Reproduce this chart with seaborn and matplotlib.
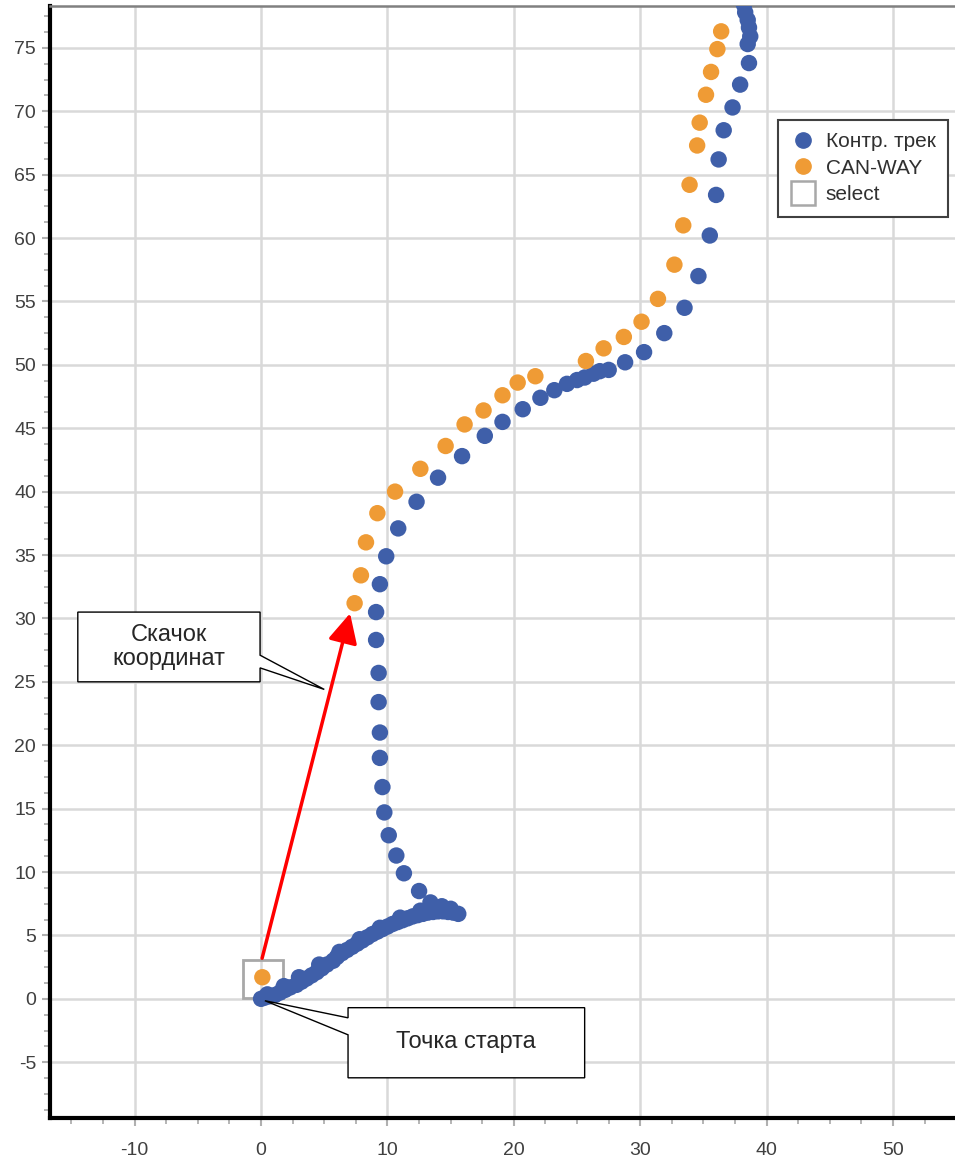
import numpy as np
import pandas as pd
import matplotlib
matplotlib.use("Agg")
from matplotlib import pyplot as plt
from matplotlib.patches import Polygon, Rectangle
from matplotlib.lines import Line2D
from matplotlib.ticker import MultipleLocator
import seaborn as sns

# control track (blue)
track_x = [0.0, 0.3, 0.7, 1.1, 1.5, 1.9, 2.3, 2.8, 3.2, 3.6, 4.0, 4.4, 4.8, 5.2, 5.7,
           6.0, 6.4, 6.8, 7.2, 7.6, 8.0, 8.4, 8.8, 9.2, 9.6, 10.0, 10.4, 10.8, 11.2,
           11.6, 12.0, 12.4, 12.8, 13.2, 13.6, 14.0, 14.4, 14.8, 15.2, 15.6, 14.3,
           15.0, 13.4, 12.5, 11.3, 10.7, 10.1, 9.75, 9.6, 9.4, 9.4, 9.3, 9.3, 9.1,
           9.1, 9.4, 9.9, 10.85, 12.3, 14.0, 15.9, 17.7, 19.1, 20.7, 22.1, 23.2,
           24.2, 25.0, 25.6, 26.3, 26.8, 27.5, 28.8, 30.3, 31.9, 33.5, 34.6, 35.5,
           36.0, 36.2, 36.6, 37.3, 37.9, 38.6, 38.5, 38.7, 38.6, 38.5, 38.3, 38.2,
           0.5, 1.8, 3.0, 4.6, 6.2, 7.8, 9.4, 11.0, 12.6]
track_y = [0.0, 0.1, 0.2, 0.3, 0.5, 0.7, 0.9, 1.1, 1.35, 1.6, 1.85, 2.1, 2.4, 2.7, 3.0,
           3.3, 3.6, 3.85, 4.1, 4.35, 4.6, 4.85, 5.1, 5.3, 5.5, 5.7, 5.9, 6.05, 6.2,
           6.35, 6.5, 6.6, 6.7, 6.8, 6.85, 6.9, 6.9, 6.85, 6.8, 6.7, 7.3,
           7.1, 7.6, 8.5, 9.9, 11.3, 12.9, 14.7, 16.7, 19.0, 21.0, 23.4, 25.7, 28.3,
           30.5, 32.7, 34.9, 37.1, 39.2, 41.1, 42.8, 44.4, 45.5, 46.5, 47.4, 48.0,
           48.5, 48.8, 49.0, 49.3, 49.5, 49.6, 50.2, 51.0, 52.5, 54.5, 57.0, 60.2,
           63.4, 66.2, 68.5, 70.3, 72.1, 73.8, 75.3, 75.9, 76.6, 77.2, 77.8, 78.4,
           0.35, 1.0, 1.7, 2.7, 3.7, 4.7, 5.6, 6.4, 6.95]

# CAN-WAY (orange)
can_x = [0.1, 7.4, 7.9, 8.3, 9.2, 10.6, 12.6, 14.6, 16.1, 17.6, 19.1, 20.3, 21.7,
         25.7, 27.1, 28.7, 30.1, 31.4, 32.7, 33.4, 33.9, 34.5, 34.7, 35.2, 35.6,
         36.1, 36.4]
can_y = [1.7, 31.2, 33.4, 36.0, 38.3, 40.0, 41.8, 43.6, 45.3, 46.4, 47.6, 48.6, 49.1,
         50.3, 51.3, 52.2, 53.4, 55.2, 57.9, 61.0, 64.2, 67.3, 69.1, 71.3, 73.1,
         74.9, 76.3]

series_names = ["Контр. трек", "CAN-WAY", "select"]
colors = ["#3f5fa9", "#ef9b35"]

df = pd.concat([
    pd.DataFrame({"x": track_x, "y": track_y, "series": series_names[0]}),
    pd.DataFrame({"x": can_x, "y": can_y, "series": series_names[1]}),
])

sns.set_style("white")
plt.rcParams["font.family"] = ["Liberation Sans", "DejaVu Sans"]
plt.rcParams["axes.unicode_minus"] = False

fig = plt.figure(figsize=(9.55, 11.62), dpi=100)
ax = fig.add_axes([50 / 955, 44 / 1162, 905 / 955, 1112 / 1162])

sns.scatterplot(data=df, x="x", y="y", hue="series",
                palette=dict(zip(series_names[:2], colors)),
                s=140, linewidth=0, legend=False, ax=ax, zorder=3)

ax.set_xlim(-16.7, 54.9)
ax.set_ylim(-9.4, 78.3)
ax.set_xlabel("")
ax.set_ylabel("")

ax.xaxis.set_major_locator(MultipleLocator(10))
ax.xaxis.set_minor_locator(MultipleLocator(2.5))
ax.yaxis.set_major_locator(MultipleLocator(5))
ax.yaxis.set_minor_locator(MultipleLocator(1.25))
ax.tick_params(which="both", bottom=True, left=True, direction="out", color="#b0b0b0",
               labelcolor="#404040", labelsize=14)
ax.tick_params(which="major", length=6, width=1.5)
ax.tick_params(which="minor", length=4, width=1.3)
ax.tick_params(axis="x", pad=11)
ax.tick_params(axis="y", pad=4)

ax.grid(True, which="major", color="#d9d9d9", linewidth=1.8, zorder=0)
ax.set_axisbelow(True)

ax.spines["left"].set_color("black")
ax.spines["left"].set_linewidth(3)
ax.spines["bottom"].set_color("black")
ax.spines["bottom"].set_linewidth(3)
ax.spines["top"].set_color("#808080")
ax.spines["top"].set_linewidth(1.8)
ax.spines["right"].set_visible(False)

# selection box around the first CAN-WAY point
ax.add_patch(Rectangle((-1.4, 0.05), 3.1, 3.05, fill=False, edgecolor="#a8a8a8",
                       linewidth=2, zorder=2))

# red jump arrow
ax.annotate("", xy=(7.04, 30.4), xytext=(0.08, 3.2),
            arrowprops=dict(arrowstyle="-|>,head_length=0.9,head_width=0.45",
                            color="red", lw=2.5, mutation_scale=20,
                            shrinkA=0, shrinkB=0), zorder=6)

# callouts
jump_box = [(-14.5, 30.5), (-0.08, 30.5), (-0.08, 27.1), (5.0, 24.4),
            (-0.08, 26.1), (-0.08, 25.0), (-14.5, 25.0)]
ax.add_patch(Polygon(jump_box, closed=True, facecolor="white", edgecolor="black",
                     linewidth=1, zorder=5))
ax.text(-7.3, 27.75, "Скачок\nкоординат", ha="center", va="center", fontsize=17,
        linespacing=1.1, zorder=6)

start_box = [(6.88, -0.7), (25.6, -0.7), (25.6, -6.23), (6.88, -6.23),
             (6.88, -2.84), (0.3, -0.15), (6.88, -1.5)]
ax.add_patch(Polygon(start_box, closed=True, facecolor="white", edgecolor="black",
                     linewidth=1, zorder=5))
ax.text(16.2, -3.4, "Точка старта", ha="center", va="center", fontsize=17, zorder=6)

handles = [
    Line2D([], [], marker="o", ls="", color=colors[0], markersize=11),
    Line2D([], [], marker="o", ls="", color=colors[1], markersize=11),
    Line2D([], [], marker="s", ls="", markerfacecolor="white",
           markeredgecolor="#a8a8a8", markeredgewidth=1.8, markersize=17),
]
leg = ax.legend(handles, series_names, loc="upper left", bbox_to_anchor=(0.804, 0.8975),
                fontsize=15, frameon=True, fancybox=False, framealpha=1,
                edgecolor="#404040", handletextpad=0.5, borderpad=0.6,
                labelspacing=0.35, handlelength=1.2, borderaxespad=0)
leg.get_frame().set_linewidth(1.5)
for t in leg.get_texts():
    t.set_color("#303030")

fig.savefig("out.png", dpi=100)
